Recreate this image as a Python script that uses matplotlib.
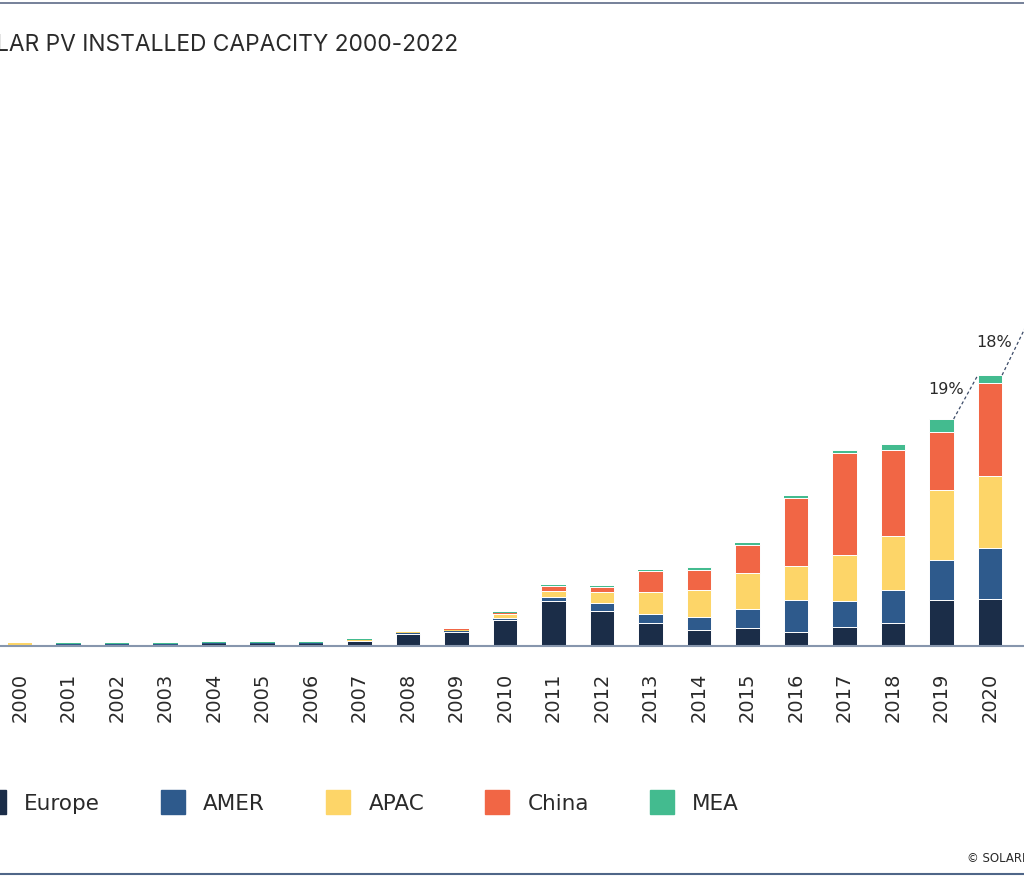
import matplotlib.pyplot as plt
from matplotlib.lines import Line2D

years = [str(y) for y in range(2000, 2023)]

# annual installations by region, GW
europe = [0.3, 0.4, 0.4, 0.4, 1.1, 1.2, 1.2, 2.4, 6.4, 7.4, 13.8, 23.9, 18.6,
          12.2, 8.5, 9.5, 7.4, 10.1, 12.2, 24.4, 24.9, 30.0, 41.0]
amer = [0.2, 0.4, 0.4, 0.4, 0.3, 0.3, 0.3, 0.3, 0.3, 0.45, 1.1, 2.1, 4.2,
        4.8, 6.9, 10.1, 17.0, 13.8, 17.5, 21.2, 27.0, 33.0, 40.0]
apac = [0.85, 0.3, 0.3, 0.3, 0.3, 0.3, 0.3, 0.5, 0.5, 0.8, 2.1, 3.2, 5.8,
        11.7, 14.3, 19.1, 18.0, 24.4, 28.6, 37.1, 38.2, 45.0, 55.0]
china = [0.05, 0.05, 0.05, 0.05, 0.05, 0.05, 0.05, 0.1, 0.15, 0.2, 0.5, 2.7, 2.7,
         11.1, 10.6, 14.8, 36.0, 54.1, 45.6, 30.7, 49.3, 55.0, 100.0]
mea = [0.2, 0.35, 0.35, 0.35, 0.35, 0.35, 0.35, 0.2, 0.3, 0.25, 0.5, 0.5, 0.5,
       0.5, 1.6, 1.1, 1.1, 1.6, 3.2, 6.9, 4.2, 7.0, 10.0]

series = [("Europe", europe, "#1b2d48"),
          ("AMER", amer, "#2e5a8c"),
          ("APAC", apac, "#fdd568"),
          ("China", china, "#f16645"),
          ("MEA", mea, "#43bb8f")]

growth_years = ["2019", "2020", "2021"]
growth_labels = ["19%", "18%", "45%"]

plt.rcParams["font.family"] = ["DejaVu Sans"]

W, H = 1024, 881
fig = plt.figure(figsize=(W / 100, H / 100), dpi=100)

# axes deliberately wider than the figure (cropped view)
px_per_bar = 48.5
left_px = 20 - 0.5 * px_per_bar
base_px = 646
ymax = 300
gw_per_px = 0.53
ax = fig.add_axes([left_px / W, (H - base_px) / H,
                   len(years) * px_per_bar / W, ymax / gw_per_px / H])

x = list(range(len(years)))
bottom = [0.0] * len(years)
for name, vals, col in series:
    # thin white gaps between segments, skipped on the tiny early ones
    lws = [0.7 if v > 1.5 else 0 for v in vals]
    ax.bar(x, vals, width=0.5, bottom=bottom, color=col,
           edgecolor="white", linewidth=lws, label=name, zorder=2)
    bottom = [b + v for b, v in zip(bottom, vals)]
totals = bottom

# dashed growth line between bar tops
for yr, lab in zip(growth_years, growth_labels):
    i = years.index(yr)
    x0, y0 = i + 0.25, totals[i]
    x1, y1 = i + 0.75, totals[i + 1]
    ax.plot([x0, x1], [y0, y1], color="#3c4b68", lw=0.9,
            dashes=(2.5, 2), zorder=3)
    ax.annotate(lab, ((x0 + x1) / 2, (y0 + y1) / 2), xytext=(-20, 8),
                textcoords="offset pixels", ha="center", va="center",
                fontsize=11.5, color="#2a2a2a")

ax.set_xlim(-0.5, len(years) - 0.5)
ax.set_ylim(0, ymax)
ax.set_xticks(x)
ax.set_xticklabels(years, rotation=90, fontsize=14, color="#2a2a2a")
ax.tick_params(axis="x", length=0, pad=19)
ax.set_yticks([])
for s in ["top", "right", "left"]:
    ax.spines[s].set_visible(False)
ax.spines["bottom"].set_color("#8796ad")
ax.spines["bottom"].set_linewidth(1.5)

fig.text(458 / W, 1 - 45 / H, "SOLAR PV INSTALLED CAPACITY 2000-2022",
         ha="right", va="center", fontsize=16.4, color="#2a2a2a",
         family=["Inter", "DejaVu Sans"])

handles = [Line2D([], [], marker="s", linestyle="none", markersize=17,
                  markerfacecolor=col, markeredgecolor=col)
           for _, _, col in series]
fig.legend(handles, [n for n, _, _ in series], loc="center left",
           bbox_to_anchor=(-18 / W, 1 - 804 / H), ncol=5, frameon=False,
           fontsize=15.5, handlelength=1.1, handletextpad=0.85,
           columnspacing=2.85, borderpad=0, borderaxespad=0,
           labelcolor="#2a2a2a")

fig.text(967 / W, 1 - 858 / H, "\u00a9 SOLARPOWER EUROPE", ha="left",
         va="center", fontsize=8.5, color="#2a2a2a")

fig.add_artist(Line2D([0, 1], [1 - 3 / H, 1 - 3 / H], color="#5d6b88",
                      lw=1.2, transform=fig.transFigure))
fig.add_artist(Line2D([0, 1], [1 - 874 / H, 1 - 874 / H], color="#4f6688",
                      lw=1.5, transform=fig.transFigure))

fig.savefig("out.png", dpi=100)
